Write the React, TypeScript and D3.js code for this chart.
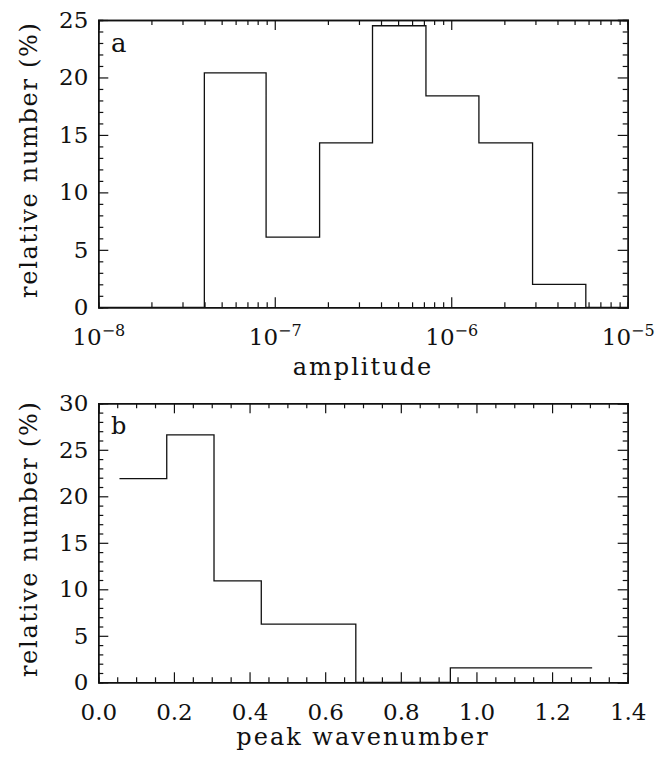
import React, { useEffect, useRef } from "react";
import * as d3 from "d3";

// panel a: amplitude histogram (log bins), edges
const ampEdges = [1e-8, 3.99e-8, 8.93e-8, 1.795e-7, 3.58e-7, 7.19e-7, 1.435e-6, 2.89e-6, 5.79e-6, 1e-5];
const ampPercent = [0, 20.4, 6.1, 14.3, 24.5, 18.4, 14.3, 2.0, 0];
const ampTicks = [1e-8, 1e-7, 1e-6, 1e-5];
const ampTickExp = ["−8", "−7", "−6", "−5"];

// panel b: peak wavenumber histogram
const waveEdges = [0.056, 0.181, 0.306, 0.431, 0.556, 0.681, 0.806, 0.931, 1.056, 1.181, 1.306];
const wavePercent = [21.9, 26.6, 10.9, 6.25, 6.25, 0, 0, 1.56, 1.56, 1.56];
const waveTicks = [0, 0.2, 0.4, 0.6, 0.8, 1.0, 1.2, 1.4];

const yLabel = "relative number (%)";
const FONT = "'DejaVu Serif', serif";

function stepPoints(edges: number[], vals: number[]) {
  const pts: [number, number][] = [];
  vals.forEach((v, i) => {
    pts.push([edges[i], v]);
    pts.push([edges[i + 1], v]);
  });
  return pts;
}

export default function App() {
  const svgRef = useRef<SVGSVGElement>(null);

  useEffect(() => {
    if (!svgRef.current) return;
    const svg = d3.select(svgRef.current);
    svg.selectAll("*").remove();

    const left = 98.3, right = 627.7;

    const styleAxis = (g: any) => {
      g.select(".domain").attr("stroke", "#111").attr("stroke-width", 1.4);
      g.selectAll(".tick line").attr("stroke", "#111").attr("stroke-width", 1.2);
      g.selectAll("text").attr("fill", "#111").style("font-family", FONT).style("font-size", "23px");
    };

    const drawFrame = (x: any, y: any, top: number, bottom: number, xMajor: number[], xMinor: number[], yMax: number, xFmt: (g: any) => void) => {
      const yMajor = d3.range(0, yMax + 1, 5);
      const yMinor = d3.range(0, yMax + 1, 1).filter(v => v % 5 !== 0);

      // minor ticks, all four sides
      svg.append("g").attr("transform", `translate(0,${bottom})`)
        .call(d3.axisBottom(x).tickValues(xMinor).tickSize(-5).tickFormat(() => "")).call(styleAxis);
      svg.append("g").attr("transform", `translate(0,${top})`)
        .call(d3.axisTop(x).tickValues(xMinor).tickSize(-5).tickFormat(() => "")).call(styleAxis);
      svg.append("g").attr("transform", `translate(${left},0)`)
        .call(d3.axisLeft(y).tickValues(yMinor).tickSize(-5).tickFormat(() => "")).call(styleAxis);
      svg.append("g").attr("transform", `translate(${right},0)`)
        .call(d3.axisRight(y).tickValues(yMinor).tickSize(-5).tickFormat(() => "")).call(styleAxis);

      // major ticks
      const xb = svg.append("g").attr("transform", `translate(0,${bottom})`)
        .call(d3.axisBottom(x).tickValues(xMajor).tickSizeInner(-10).tickSizeOuter(0).tickPadding(21));
      xb.call(styleAxis);
      xFmt(xb);
      svg.append("g").attr("transform", `translate(0,${top})`)
        .call(d3.axisTop(x).tickValues(xMajor).tickSize(-10).tickFormat(() => "")).call(styleAxis);
      svg.append("g").attr("transform", `translate(${left},0)`)
        .call(d3.axisLeft(y).tickValues(yMajor).tickSizeInner(-10).tickSizeOuter(0).tickPadding(10).tickFormat(d3.format("d")))
        .call(styleAxis);
      svg.append("g").attr("transform", `translate(${right},0)`)
        .call(d3.axisRight(y).tickValues(yMajor).tickSize(-10).tickFormat(() => "")).call(styleAxis);

      svg.append("text")
        .attr("transform", `translate(37,${(top + bottom) / 2 - 4}) rotate(-90)`)
        .attr("text-anchor", "middle")
        .style("font-family", FONT).style("font-size", "24px").style("letter-spacing", "1.7px")
        .attr("fill", "#111").text(yLabel);
    };

    // ---- panel a ----
    const topA = 20, botA = 307.3;
    const xA = d3.scaleLog().domain([1e-8, 1e-5]).range([left, right]);
    const yA = d3.scaleLinear().domain([0, 25]).range([botA, topA]);
    const logMinor: number[] = [];
    ampTicks.slice(0, -1).forEach(t => { for (let k = 2; k <= 9; k++) logMinor.push(t * k); });

    drawFrame(xA, yA, topA, botA, ampTicks, logMinor, 25, (g: any) => {
      g.selectAll(".tick text").each(function (this: any, d: any, i: number) {
        const t = d3.select(this);
        t.text(null);
        t.append("tspan").text("10");
        t.append("tspan").attr("dy", "-0.55em").style("font-size", "16px").text(ampTickExp[i]);
      });
    });

    const line = d3.line<[number, number]>();
    svg.append("path")
      .attr("d", line.x(d => xA(d[0])).y(d => yA(d[1]))(stepPoints(ampEdges, ampPercent)))
      .attr("fill", "none").attr("stroke", "#111").attr("stroke-width", 1.3);

    svg.append("text").attr("x", 111).attr("y", 52)
      .style("font-family", FONT).style("font-size", "26px").attr("fill", "#111").text("a");
    svg.append("text").attr("x", (left + right) / 2).attr("y", 375).attr("text-anchor", "middle")
      .style("font-family", FONT).style("font-size", "24px").style("letter-spacing", "2px")
      .attr("fill", "#111").text("amplitude");

    // ---- panel b ----
    const topB = 403.3, botB = 682.3;
    const xB = d3.scaleLinear().domain([0, 1.4]).range([left, right]);
    const yB = d3.scaleLinear().domain([0, 30]).range([botB, topB]);
    const waveMinor = d3.range(0, 1.4001, 0.05).filter(v => Math.abs(v / 0.2 - Math.round(v / 0.2)) > 1e-6);

    drawFrame(xB, yB, topB, botB, waveTicks, waveMinor, 30, (g: any) => {
      g.selectAll(".tick text").text((d: any) => d3.format(".1f")(d));
    });

    const lineB = d3.line<[number, number]>().x(d => xB(d[0])).y(d => yB(d[1]));
    svg.append("path")
      .attr("d", lineB(stepPoints(waveEdges, wavePercent)))
      .attr("fill", "none").attr("stroke", "#111").attr("stroke-width", 1.3);

    svg.append("text").attr("x", 111).attr("y", 434)
      .style("font-family", FONT).style("font-size", "24px").attr("fill", "#111").text("b");
    svg.append("text").attr("x", (left + right) / 2).attr("y", 745).attr("text-anchor", "middle")
      .style("font-family", FONT).style("font-size", "24px").style("letter-spacing", "2px")
      .attr("fill", "#111").text("peak wavenumber");
  }, []);

  return (
    <svg ref={svgRef} width={655} height={759}
      style={{ position: "absolute", left: 0, top: 0, background: "#fff" }} />
  );
}
